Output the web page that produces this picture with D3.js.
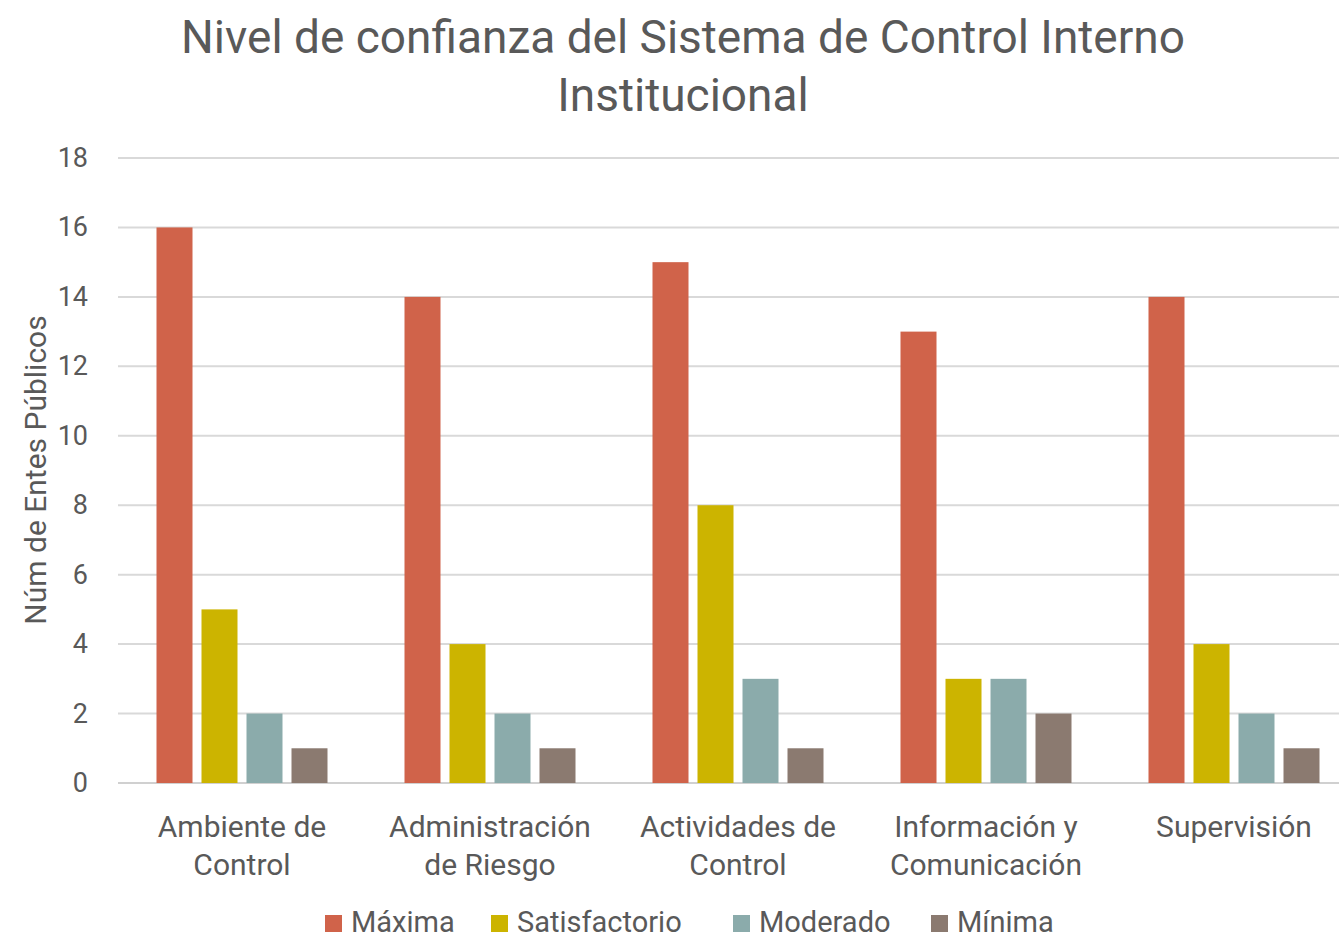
<!DOCTYPE html>
<html><head><meta charset="utf-8">
<script src="https://cdn.jsdelivr.net/npm/d3@7"></script>
<style>body{margin:0;background:#fff}text{font-family:Roboto,"Noto Sans",sans-serif;fill:#595959}</style>
</head><body><svg id="c" width="1339" height="940"></svg>
<script>
const categories = [["Ambiente de","Control"],["Administración","de Riesgo"],["Actividades de","Control"],["Información y","Comunicación"],["Supervisión"]];
const seriesNames = ["Máxima","Satisfactorio","Moderado","Mínima"];
const maxima = [16,14,15,13,14];
const satisfactorio = [5,4,8,3,4];
const moderado = [2,2,3,3,2];
const minima = [1,1,1,2,1];
const yTicks = [0,2,4,6,8,10,12,14,16,18];
const colors = ["#D0634A","#CCB400","#8BABAB","#8B7A70"];
const seriesVals = [maxima,satisfactorio,moderado,minima];

(function(){
const svg = d3.select("#c");
const pl=118,pr=1358,pt=158,pb=783;
const y = d3.scaleLinear().domain([0,18]).range([pb,pt]);
const catIdx = categories.map((c,i)=>i);
const x0 = d3.scaleBand().domain(catIdx).range([pl,pr]).padding(0);
const groupW = 171;
const x1 = d3.scaleBand().domain(seriesNames).range([0,groupW]).paddingInner(0.2).paddingOuter(0);
const color = d3.scaleOrdinal().domain(seriesNames).range(colors);

svg.append("g").selectAll("line").data(yTicks).join("line")
  .attr("x1",pl).attr("x2",pr).attr("y1",d=>y(d)).attr("y2",d=>y(d))
  .attr("stroke",d=>d===0?"#D0D0D0":"#D9D9D9").attr("stroke-width",2);
svg.append("g").selectAll("text").data(yTicks).join("text")
  .attr("x",88).attr("y",d=>y(d)+9).attr("text-anchor","end")
  .attr("font-size",27).text(d=>d);

const off = (x0.bandwidth()-groupW)/2;
const g = svg.append("g").selectAll("g").data(catIdx).join("g")
  .attr("transform",i=>`translate(${x0(i)+off},0)`);
g.selectAll("rect").data(i=>seriesNames.map((s,k)=>({s,v:seriesVals[k][i]}))).join("rect")
  .attr("x",d=>x1(d.s)).attr("width",x1.bandwidth())
  .attr("y",d=>y(d.v)).attr("height",d=>y(0)-y(d.v))
  .attr("fill",d=>color(d.s));

const cl = svg.append("g").selectAll("text").data(catIdx).join("text")
  .attr("text-anchor","middle").attr("font-size",30)
  .attr("transform",i=>`translate(${x0(i)+x0.bandwidth()/2},837)`);
cl.selectAll("tspan").data(i=>categories[i]).join("tspan")
  .attr("x",0).attr("y",(d,j)=>j*38).text(d=>d);

svg.append("text").attr("transform","translate(46,470) rotate(-90)")
  .attr("text-anchor","middle").attr("font-size",30).text("Núm de Entes Públicos");

const t = svg.append("text").attr("text-anchor","middle").attr("font-size",46);
t.append("tspan").attr("x",683).attr("y",53).text("Nivel de confianza del Sistema de Control Interno");
t.append("tspan").attr("x",683).attr("y",111).text("Institucional");

const legX = [325,491,733,931];
const lg = svg.append("g").selectAll("g").data(seriesNames).join("g")
  .attr("transform",(d,i)=>`translate(${legX[i]},915)`);
lg.append("rect").attr("width",17).attr("height",17).attr("fill",d=>color(d));
lg.append("text").attr("x",26).attr("y",17).attr("font-size",29).text(d=>d);
})();
</script></body></html>
